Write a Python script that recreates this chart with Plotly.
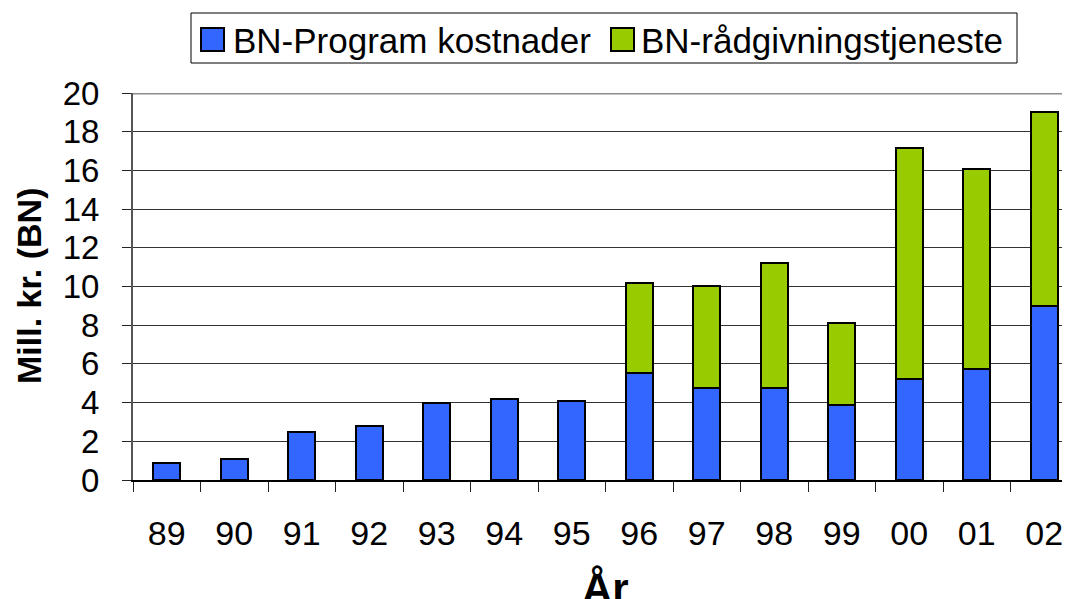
import plotly.graph_objects as go

# ---- data ----
years = ["89", "90", "91", "92", "93", "94", "95", "96", "97", "98", "99", "00", "01", "02"]
program_costs = [0.88, 1.09, 2.50, 2.80, 4.00, 4.20, 4.06, 5.54, 4.75, 4.75, 3.90, 5.22, 5.73, 9.00]
advisory_service = [0, 0, 0, 0, 0, 0, 0, 4.63, 5.30, 6.48, 4.22, 11.93, 10.35, 10.00]
series_names = ["BN-Program kostnader", "BN-rådgivningstjeneste"]
y_ticks = [0, 2, 4, 6, 8, 10, 12, 14, 16, 18, 20]
x_title = "År"
y_title = "Mill. kr. (BN)"

BLUE = "#3366FF"
GREEN = "#99CC00"
FONT = "Liberation Sans, Arial, sans-serif"

W, H = 1070, 599
OFF = 8  # page body margin offset
# plot area in reference page pixels
PL, PR, PT, PB = 133, 1078, 93, 480


def px_x(p):
    return (p - PL) / (PR - PL)


def px_y(p):
    return (PB - p) / (PB - PT)


fig = go.Figure()
fig.add_trace(go.Bar(
    x=years, y=program_costs, name=series_names[0],
    marker=dict(color=BLUE, line=dict(color="black", width=2)),
    width=0.4, showlegend=False,
))
fig.add_trace(go.Bar(
    x=years, y=advisory_service, name=series_names[1],
    marker=dict(color=GREEN, line=dict(color="black", width=2)),
    width=0.4, showlegend=False,
))

shapes = []
annotations = []

# top border line at 20
shapes.append(dict(type="line", xref="paper", yref="y", x0=0, x1=1, y0=20, y1=20,
                   line=dict(color="#8c8c8c", width=3)))

# manual legend
shapes.append(dict(type="rect", xref="paper", yref="paper",
                   x0=px_x(191), x1=px_x(1017), y0=px_y(63), y1=px_y(13),
                   line=dict(color="black", width=1), fillcolor="white"))
leg_items = [(201, 231, BLUE), (611, 639, GREEN)]
for (sx, tx, col), name in zip(leg_items, series_names):
    shapes.append(dict(type="rect", xref="paper", yref="paper",
                       x0=px_x(sx), x1=px_x(sx + 23), y0=px_y(51), y1=px_y(28),
                       line=dict(color="black", width=2), fillcolor=col))
    annotations.append(dict(text=name, xref="paper", yref="paper",
                            x=px_x(tx), y=px_y(40), xanchor="left", yanchor="middle",
                            showarrow=False, font=dict(family=FONT, size=35, color="black")))

# axis titles
annotations.append(dict(text="<b>" + y_title + "</b>", xref="paper", yref="paper",
                        x=px_x(29), y=px_y(286), textangle=-90, xanchor="center", yanchor="middle",
                        showarrow=False, font=dict(family=FONT, size=34, color="black")))
annotations.append(dict(text="<b>" + x_title + "</b>", xref="x", yref="paper",
                        x=6.5, y=px_y(588), xanchor="center", yanchor="middle",
                        showarrow=False, font=dict(family=FONT, size=42, color="black")))

fig.update_layout(
    width=W, height=H,
    margin=dict(l=PL - OFF, r=W - (PR - OFF), t=PT - OFF, b=H - (PB - OFF), pad=0),
    barmode="stack",
    plot_bgcolor="white", paper_bgcolor="white",
    font=dict(family=FONT, color="black"),
    showlegend=False,
    shapes=shapes,
    annotations=annotations,
    xaxis=dict(
        type="category", range=[-0.5, len(years) - 0.5],
        showline=True, linecolor="black", linewidth=2,
        ticks="outside", tickson="boundaries", ticklen=10, tickcolor="#222", tickwidth=1,
        tickfont=dict(family=FONT, size=34, color="black"),
        ticklabelstandoff=22,
        showgrid=False, zeroline=False,
    ),
    yaxis=dict(
        range=[0, 20], tickvals=y_ticks,
        showline=True, linecolor="#555", linewidth=2,
        ticks="outside", ticklen=9, tickcolor="#222", tickwidth=1,
        tickfont=dict(family=FONT, size=33, color="black"),
        ticklabelstandoff=16,
        showgrid=True, gridcolor="#333", gridwidth=1,
        zeroline=False,
    ),
)

fig.write_html("out.html")
